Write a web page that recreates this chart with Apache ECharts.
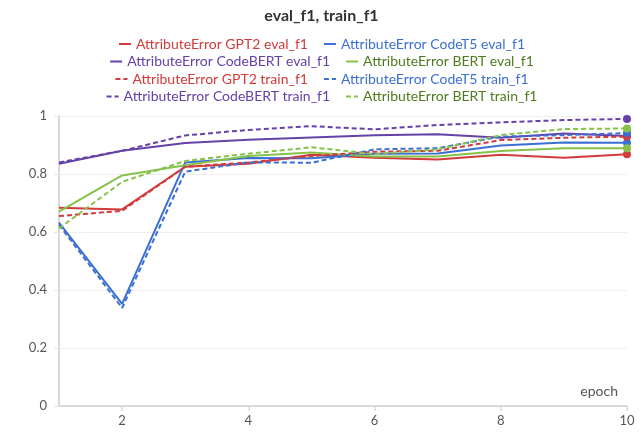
<!DOCTYPE html>
<html>
<head>
<meta charset="utf-8">
<script src="https://cdn.jsdelivr.net/npm/echarts@6/dist/echarts.min.js"></script>
<style>html,body{margin:0;padding:0;background:#fff}#c{width:643px;height:438px}</style>
</head>
<body>
<div id="c"></div>
<script>
const epochs = [1, 2, 3, 4, 5, 6, 7, 8, 9, 10];
const gpt2Eval      = [0.684, 0.678, 0.825, 0.835, 0.866, 0.856, 0.850, 0.866, 0.856, 0.868];
const codet5Eval    = [0.632, 0.352, 0.840, 0.855, 0.854, 0.870, 0.871, 0.898, 0.909, 0.908];
const codebertEval  = [0.835, 0.880, 0.907, 0.918, 0.926, 0.934, 0.937, 0.925, 0.940, 0.931];
const bertEval      = [0.670, 0.795, 0.830, 0.862, 0.874, 0.860, 0.860, 0.879, 0.889, 0.889];
const gpt2Train     = [0.655, 0.673, 0.825, 0.840, 0.862, 0.877, 0.880, 0.917, 0.925, 0.929];
const codet5Train   = [0.625, 0.338, 0.808, 0.840, 0.839, 0.885, 0.889, 0.929, 0.934, 0.941];
const codebertTrain = [0.840, 0.880, 0.933, 0.952, 0.965, 0.954, 0.969, 0.978, 0.986, 0.990];
const bertTrain     = [0.612, 0.773, 0.845, 0.870, 0.892, 0.869, 0.885, 0.934, 0.955, 0.957];
const yTicks = [0, 0.2, 0.4, 0.6, 0.8, 1];
const xTicks = [2, 4, 6, 8, 10];

const RED = '#d13b3b', BLUE = '#3b6fd4', PURPLE = '#6541a8', GREEN = '#86c249';
const TXT = {red: '#d13b3b', blue: '#3b6fd4', purple: '#6541a8', green: '#4f7a1f'};

const defs = [
  {name: 'AttributeError GPT2 eval_f1', data: gpt2Eval, color: RED, txt: TXT.red, dash: false},
  {name: 'AttributeError CodeT5 eval_f1', data: codet5Eval, color: BLUE, txt: TXT.blue, dash: false},
  {name: 'AttributeError CodeBERT eval_f1', data: codebertEval, color: PURPLE, txt: TXT.purple, dash: false},
  {name: 'AttributeError BERT eval_f1', data: bertEval, color: GREEN, txt: TXT.green, dash: false},
  {name: 'AttributeError GPT2 train_f1', data: gpt2Train, color: RED, txt: TXT.red, dash: true},
  {name: 'AttributeError CodeT5 train_f1', data: codet5Train, color: BLUE, txt: TXT.blue, dash: true},
  {name: 'AttributeError CodeBERT train_f1', data: codebertTrain, color: PURPLE, txt: TXT.purple, dash: true},
  {name: 'AttributeError BERT train_f1', data: bertTrain, color: GREEN, txt: TXT.green, dash: true}
];

const FONT = 'Lato';
const legends = [0, 1, 2, 3].map(r => ({
  top: 34 + r * 17.5,
  left: 'center',
  padding: [3, 5, 3, 45],
  orient: 'horizontal',
  itemWidth: 12,
  itemHeight: 8,
  itemGap: 15,
  textStyle: {fontFamily: FONT, fontSize: 14},
  itemStyle: {opacity: 0},
  data: [defs[r * 2], defs[r * 2 + 1]].map(d => ({name: d.name, textStyle: {color: d.txt}}))
}));

const series = defs.map(d => ({
  name: d.name,
  type: 'line',
  symbol: 'none',
  smooth: false,
  color: d.color,
  lineStyle: {width: 2, color: d.color, type: d.dash ? [5, 3] : 'solid'},
  data: d.data.map((v, i) => {
    const pt = {value: [epochs[i], v]};
    if (i === d.data.length - 1) { pt.symbol = 'circle'; pt.symbolSize = 8; pt.itemStyle = {color: d.color, opacity: 1}; }
    return pt;
  }),
  emphasis: {disabled: true},
  animation: false
}));

const chart = echarts.init(document.getElementById('c'));
chart.setOption({
  animation: false,
  title: {
    text: 'eval_f1, train_f1', left: 'center', top: 3,
    textStyle: {fontFamily: FONT, fontSize: 16, fontWeight: 'bold', color: '#333'}
  },
  legend: legends,
  grid: {left: 59, right: 16, top: 116, bottom: 32},
  xAxis: {
    type: 'value', min: 1, max: 10,
    name: 'epoch', nameLocation: 'end', nameGap: -9,
    nameTextStyle: {fontFamily: FONT, fontSize: 14, color: '#555', align: 'right', verticalAlign: 'bottom', padding: [0, 0, 8, 0]},
    axisLine: {show: true, lineStyle: {color: '#d9d9de', width: 2}},
    axisTick: {show: true, customValues: xTicks, length: 5, lineStyle: {color: '#d9d9de', width: 1.5}},
    axisLabel: {customValues: xTicks, fontFamily: FONT, fontSize: 13, color: '#555', margin: 8},
    splitLine: {show: false}
  },
  yAxis: {
    type: 'value', min: 0, max: 1, interval: 0.2,
    axisLine: {show: true, lineStyle: {color: '#d9d9de', width: 2}},
    axisTick: {show: true, length: 5, lineStyle: {color: '#e6e6ea'}},
    axisLabel: {fontFamily: FONT, fontSize: 13, color: '#555', margin: 12,
      formatter: v => String(+v.toFixed(1))},
    splitLine: {show: true, lineStyle: {color: '#efefef', width: 1}}
  },
  series: series
});
</script>
</body>
</html>
